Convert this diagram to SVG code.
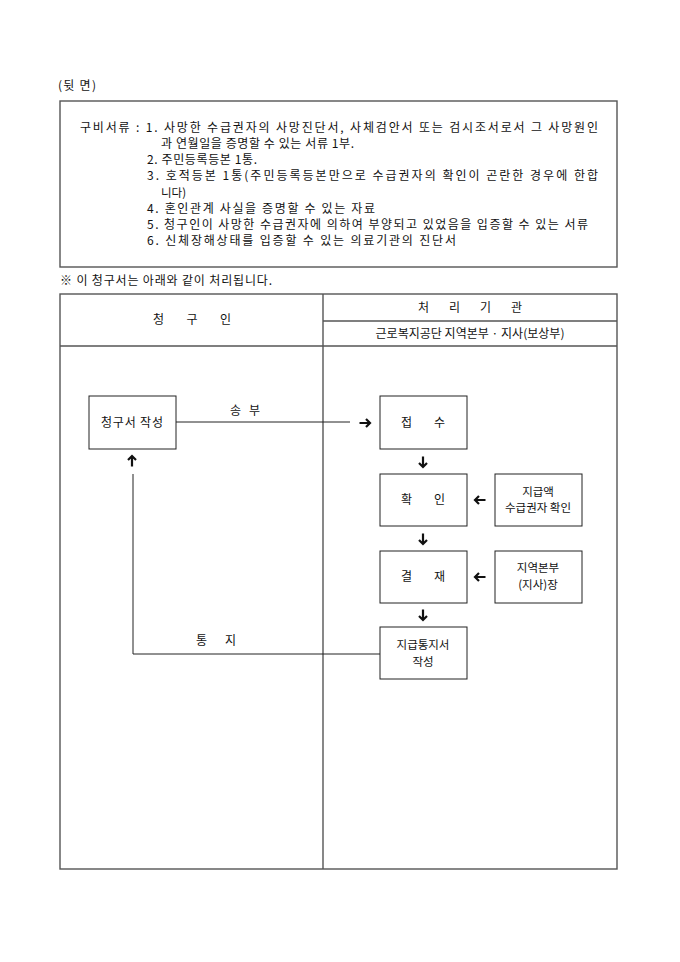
<svg xmlns="http://www.w3.org/2000/svg" xmlns:xlink="http://www.w3.org/1999/xlink" width="680" height="962" viewBox="0 0 680 962">
<style>
text{font-family:"Noto Sans CJK KR","Noto Sans",sans-serif;font-size:12px;fill:#111;}
.s{font-size:11.5px;}
.c{text-anchor:middle;}
.frame{fill:none;stroke:#555;stroke-width:1.4;}
.node{fill:#fff;stroke:#222;stroke-width:1;}
.conn{fill:none;stroke:#222;stroke-width:1;}
.arr{fill:none;stroke:#111;stroke-width:2.2;}
</style>
<defs>
<path id="ar" d="M-5.5,0 H4.5 M1,-4 L5,0 L1,4" class="arr"/>
</defs>
<rect width="680" height="962" fill="#fff"/>
<text x="58" y="90" textLength="38" lengthAdjust="spacing">(뒷 면)</text>
<g id="docs">
<rect x="60" y="101" width="557" height="166" class="frame"/>
<text x="80" y="132" textLength="518" lengthAdjust="spacing">구비서류 : 1. 사망한 수급권자의 사망진단서, 사체검안서 또는 검시조서로서 그 사망원인</text>
<text x="161" y="148" textLength="193" lengthAdjust="spacing">과 연월일을 증명할 수 있는 서류 1부.</text>
<text x="147" y="164" textLength="110" lengthAdjust="spacing">2. 주민등록등본 1통.</text>
<text x="147" y="180" textLength="451" lengthAdjust="spacing">3. 호적등본 1통(주민등록등본만으로 수급권자의 확인이 곤란한 경우에 한합</text>
<text x="161" y="197" class="s">니다)</text>
<text x="147" y="213" textLength="228" lengthAdjust="spacing">4. 혼인관계 사실을 증명할 수 있는 자료</text>
<text x="147" y="229" textLength="441" lengthAdjust="spacing">5. 청구인이 사망한 수급권자에 의하여 부양되고 있었음을 입증할 수 있는 서류</text>
<text x="147" y="245" textLength="309" lengthAdjust="spacing">6. 신체장해상태를 입증할 수 있는 의료기관의 진단서</text>
</g>
<text x="60" y="285" textLength="212" lengthAdjust="spacing">※ 이 청구서는 아래와 같이 처리됩니다.</text>
<g id="table">
<rect x="60" y="294" width="557" height="575" class="frame"/>
<line x1="323" y1="294" x2="323" y2="869" class="frame"/>
<line x1="60" y1="346" x2="617" y2="346" class="frame"/>
<line x1="323" y1="321" x2="617" y2="321" class="frame"/>
<text x="192" y="324" class="c" textLength="78" lengthAdjust="spacing">청 구 인</text>
<text x="470" y="312" class="c" textLength="104" lengthAdjust="spacing">처 리 기 관</text>
<text x="470" y="338" class="c" textLength="189" lengthAdjust="spacing">근로복지공단 지역본부 · 지사(보상부)</text>
</g>
<g id="connectors">
<line x1="176" y1="422" x2="350" y2="422" class="conn"/>
<polyline points="380,654 133,654 133,474" class="conn"/>
<use xlink:href="#ar" transform="translate(365,423)"/>
<use xlink:href="#ar" transform="translate(423,462) rotate(90)"/>
<use xlink:href="#ar" transform="translate(423,539) rotate(90)"/>
<use xlink:href="#ar" transform="translate(423,615) rotate(90)"/>
<use xlink:href="#ar" transform="translate(480,500) rotate(180)"/>
<use xlink:href="#ar" transform="translate(480,577) rotate(180)"/>
<use xlink:href="#ar" transform="translate(132,461) rotate(-90)"/>
<text x="245" y="415" class="c" textLength="30" lengthAdjust="spacing">송 부</text>
<text x="216" y="645" class="c" textLength="40" lengthAdjust="spacing">통 지</text>
</g>
<g id="n-claim">
<rect x="89" y="396" width="87" height="53" class="node"/>
<text x="132" y="427" class="c" textLength="62" lengthAdjust="spacing">청구서 작성</text>
</g>
<g id="n-receive">
<rect x="380" y="396" width="87" height="53" class="node"/>
<text x="423" y="427" class="c" textLength="44" lengthAdjust="spacing">접 수</text>
</g>
<g id="n-confirm">
<rect x="380" y="474" width="87" height="52" class="node"/>
<text x="423" y="504" class="c" textLength="44" lengthAdjust="spacing">확 인</text>
</g>
<g id="n-amount">
<rect x="495" y="474" width="87" height="52" class="node"/>
<text x="538" y="496" class="c s">지급액</text>
<text x="538" y="512" class="c s">수급권자 확인</text>
</g>
<g id="n-approve">
<rect x="380" y="551" width="87" height="52" class="node"/>
<text x="423" y="581" class="c" textLength="44" lengthAdjust="spacing">결 재</text>
</g>
<g id="n-head">
<rect x="495" y="551" width="87" height="52" class="node"/>
<text x="538" y="572" class="c s">지역본부</text>
<text x="538" y="589" class="c s">(지사)장</text>
</g>
<g id="n-notice">
<rect x="380" y="627" width="87" height="52" class="node"/>
<text x="423" y="649" class="c s">지급통지서</text>
<text x="423" y="666" class="c s">작성</text>
</g>
</svg>
